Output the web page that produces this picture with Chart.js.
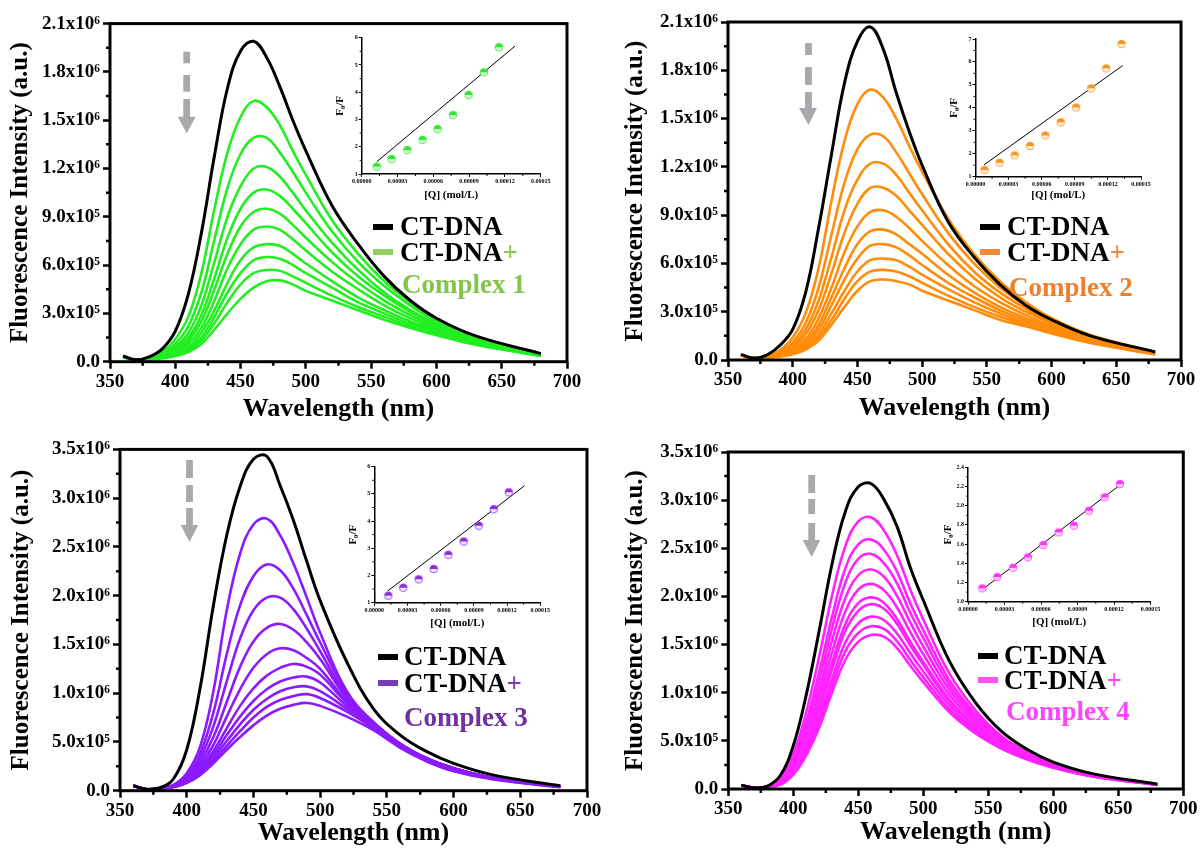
<!DOCTYPE html>
<html>
<head>
<meta charset="utf-8">
<script src="https://cdn.jsdelivr.net/npm/chart.js@4.4.1/dist/chart.umd.min.js"></script>
<style>
  body { margin: 0; background: #fff; }
  #page { position: relative; width: 1200px; height: 854px; overflow: hidden; background: #fff;
          font-family: 'Liberation Serif', 'Times New Roman', serif; font-weight: bold; }
  canvas { position: absolute; }
  .lg { position: absolute; font-size: 27px; line-height: 30px; white-space: nowrap; color: #000; }
  .bar { position: absolute; width: 20px; height: 6px; }
  #arrows { position: absolute; left: 0; top: 0; }
</style>
</head>
<body>
<div id="page">
  <canvas id="m1" width="600" height="427" style="left:0;top:0"></canvas>
  <canvas id="m2" width="600" height="427" style="left:600px;top:0"></canvas>
  <canvas id="m3" width="610" height="427" style="left:0;top:427px"></canvas>
  <canvas id="m4" width="600" height="427" style="left:600px;top:427px"></canvas>
  <canvas id="i1" width="236" height="180" style="left:318px;top:26px"></canvas>
  <canvas id="i2" width="230" height="180" style="left:930px;top:27px"></canvas>
  <canvas id="i3" width="225" height="180" style="left:330px;top:455px"></canvas>
  <canvas id="i4" width="240" height="180" style="left:925px;top:455px"></canvas>

  <!-- legends -->
  <div class="bar" style="left:373px;top:224px;background:#000"></div>
  <div class="lg" style="left:400px;top:211px">CT-DNA</div>
  <div class="bar" style="left:373px;top:249px;background:#8fd060"></div>
  <div class="lg" style="left:400px;top:237px">CT-DNA<span style="color:#8cc850">+</span></div>
  <div class="lg" style="left:402px;top:269px;color:#84c44c">Complex 1</div>

  <div class="bar" style="left:980px;top:224px;background:#000"></div>
  <div class="lg" style="left:1007px;top:211px">CT-DNA</div>
  <div class="bar" style="left:980px;top:249px;background:#f08a3a"></div>
  <div class="lg" style="left:1007px;top:237px">CT-DNA<span style="color:#f08a3a">+</span></div>
  <div class="lg" style="left:1009px;top:272px;color:#ee7f2d">Complex 2</div>

  <div class="bar" style="left:378px;top:654px;background:#000"></div>
  <div class="lg" style="left:404px;top:641px">CT-DNA</div>
  <div class="bar" style="left:378px;top:680px;background:#7a3db8"></div>
  <div class="lg" style="left:404px;top:668px">CT-DNA<span style="color:#7a3db8">+</span></div>
  <div class="lg" style="left:404px;top:702px;color:#7030a0">Complex 3</div>

  <div class="bar" style="left:978px;top:653px;background:#000"></div>
  <div class="lg" style="left:1004px;top:640px">CT-DNA</div>
  <div class="bar" style="left:978px;top:677px;background:#ff55ee"></div>
  <div class="lg" style="left:1004px;top:665px">CT-DNA<span style="color:#ff44ff">+</span></div>
  <div class="lg" style="left:1006px;top:696px;color:#ff44ff">Complex 4</div>

  <!-- quenching arrows -->
  <svg id="arrows" width="1200" height="854">
    <g fill="#a7a9ad">
      <rect x="183.3" y="51.7" width="6.8" height="11.6"/><rect x="183.3" y="75" width="6.8" height="16.7"/>
      <rect x="183.3" y="99" width="6.8" height="18"/><polygon points="177.7,116.7 195.7,116.7 186.7,133.3"/>
      <rect x="805.1" y="43" width="6.8" height="12"/><rect x="805.1" y="67" width="6.8" height="18"/>
      <rect x="805.1" y="92" width="6.8" height="16.5"/><polygon points="799,108 817,108 808.5,125"/>
      <rect x="186.1" y="460" width="6.8" height="18"/><rect x="186.1" y="485" width="6.8" height="17"/>
      <rect x="186.1" y="508" width="6.8" height="17.5"/><polygon points="180.7,525 198.3,525 189.5,542"/>
      <rect x="808.3" y="475" width="6.8" height="18"/><rect x="808.3" y="499" width="6.8" height="15"/>
      <rect x="808.3" y="523" width="6.8" height="17.5"/><polygon points="802.7,540 820.3,540 811.7,557"/>
    </g>
  </svg>
</div>

<script>
// ---- data (intensities in units of 10^6 a.u.) ----
const wavelengths = [360, 370, 380, 390, 400, 410, 420, 430, 440, 450, 460, 470, 480, 490, 500, 520, 540, 560, 580, 600, 630, 680];

const ctDna1 = [0.035, 0.012, 0.03, 0.08, 0.19, 0.42, 0.80, 1.28, 1.70, 1.93, 1.99, 1.89, 1.71, 1.50, 1.31, 0.97, 0.73, 0.53, 0.38, 0.27, 0.16, 0.05];
const complex1 = [
  [0.03, 0.01, 0.02, 0.06, 0.14, 0.28, 0.55, 0.95, 1.30, 1.52, 1.62, 1.58, 1.47, 1.31, 1.16, 0.88, 0.67, 0.50, 0.37, 0.26, 0.155, 0.05],
  [0.03, 0.01, 0.02, 0.05, 0.11, 0.22, 0.43, 0.76, 1.08, 1.29, 1.39, 1.39, 1.30, 1.18, 1.05, 0.81, 0.62, 0.47, 0.35, 0.25, 0.15, 0.05],
  [0.03, 0.01, 0.02, 0.045, 0.09, 0.18, 0.35, 0.62, 0.90, 1.09, 1.20, 1.21, 1.15, 1.05, 0.94, 0.74, 0.57, 0.43, 0.32, 0.235, 0.14, 0.045],
  [0.03, 0.01, 0.02, 0.04, 0.08, 0.15, 0.29, 0.52, 0.77, 0.95, 1.05, 1.07, 1.03, 0.95, 0.86, 0.68, 0.53, 0.41, 0.31, 0.225, 0.135, 0.045],
  [0.03, 0.01, 0.02, 0.035, 0.07, 0.13, 0.25, 0.45, 0.67, 0.84, 0.93, 0.95, 0.92, 0.85, 0.77, 0.62, 0.49, 0.38, 0.29, 0.215, 0.13, 0.042],
  [0.03, 0.01, 0.02, 0.03, 0.06, 0.11, 0.21, 0.38, 0.58, 0.73, 0.82, 0.84, 0.82, 0.76, 0.69, 0.56, 0.45, 0.35, 0.27, 0.205, 0.125, 0.04],
  [0.03, 0.01, 0.015, 0.03, 0.05, 0.09, 0.18, 0.32, 0.49, 0.63, 0.71, 0.73, 0.72, 0.67, 0.61, 0.50, 0.40, 0.32, 0.25, 0.195, 0.12, 0.04],
  [0.03, 0.01, 0.015, 0.025, 0.045, 0.08, 0.15, 0.28, 0.43, 0.55, 0.63, 0.65, 0.64, 0.60, 0.55, 0.46, 0.37, 0.30, 0.235, 0.185, 0.115, 0.038],
  [0.03, 0.01, 0.015, 0.025, 0.04, 0.07, 0.13, 0.24, 0.37, 0.48, 0.55, 0.57, 0.565, 0.53, 0.49, 0.41, 0.34, 0.28, 0.22, 0.175, 0.11, 0.036],
  [0.03, 0.01, 0.015, 0.02, 0.035, 0.06, 0.11, 0.20, 0.30, 0.39, 0.46, 0.50, 0.505, 0.48, 0.44, 0.38, 0.32, 0.26, 0.21, 0.165, 0.105, 0.035]
];

const ctDna2 = [0.035, 0.012, 0.03, 0.09, 0.19, 0.42, 0.82, 1.28, 1.72, 1.98, 2.07, 1.93, 1.66, 1.42, 1.21, 0.86, 0.64, 0.47, 0.34, 0.25, 0.15, 0.05];
const complex2 = [
  [0.03, 0.01, 0.02, 0.06, 0.14, 0.29, 0.57, 0.99, 1.36, 1.59, 1.68, 1.63, 1.50, 1.33, 1.17, 0.88, 0.66, 0.49, 0.36, 0.26, 0.155, 0.05],
  [0.03, 0.01, 0.02, 0.05, 0.11, 0.23, 0.45, 0.78, 1.10, 1.31, 1.40, 1.39, 1.29, 1.16, 1.03, 0.79, 0.60, 0.45, 0.34, 0.245, 0.15, 0.05],
  [0.03, 0.01, 0.02, 0.045, 0.09, 0.19, 0.37, 0.64, 0.93, 1.12, 1.22, 1.22, 1.15, 1.04, 0.93, 0.72, 0.55, 0.42, 0.32, 0.235, 0.14, 0.045],
  [0.03, 0.01, 0.02, 0.04, 0.08, 0.16, 0.31, 0.54, 0.79, 0.97, 1.07, 1.07, 1.02, 0.93, 0.84, 0.66, 0.51, 0.39, 0.30, 0.225, 0.135, 0.045],
  [0.03, 0.01, 0.02, 0.035, 0.07, 0.13, 0.26, 0.45, 0.67, 0.83, 0.92, 0.93, 0.89, 0.82, 0.74, 0.59, 0.46, 0.36, 0.28, 0.21, 0.13, 0.042],
  [0.03, 0.01, 0.02, 0.03, 0.06, 0.11, 0.22, 0.39, 0.57, 0.72, 0.80, 0.81, 0.78, 0.72, 0.66, 0.53, 0.42, 0.33, 0.26, 0.20, 0.125, 0.04],
  [0.03, 0.01, 0.015, 0.03, 0.05, 0.10, 0.19, 0.34, 0.50, 0.63, 0.71, 0.72, 0.70, 0.65, 0.59, 0.48, 0.39, 0.31, 0.245, 0.19, 0.12, 0.04],
  [0.03, 0.01, 0.015, 0.025, 0.045, 0.085, 0.16, 0.29, 0.43, 0.55, 0.62, 0.63, 0.62, 0.58, 0.53, 0.44, 0.36, 0.29, 0.23, 0.18, 0.115, 0.038],
  [0.03, 0.01, 0.015, 0.025, 0.04, 0.075, 0.14, 0.25, 0.38, 0.49, 0.55, 0.56, 0.55, 0.52, 0.48, 0.40, 0.33, 0.27, 0.22, 0.17, 0.11, 0.036],
  [0.03, 0.01, 0.015, 0.02, 0.035, 0.065, 0.12, 0.22, 0.33, 0.43, 0.49, 0.50, 0.49, 0.47, 0.43, 0.37, 0.31, 0.25, 0.21, 0.165, 0.105, 0.035]
];

const ctDna3 = [0.05, 0.015, 0.03, 0.12, 0.42, 1.05, 1.90, 2.62, 3.12, 3.40, 3.43, 3.13, 2.77, 2.35, 1.95, 1.32, 0.84, 0.57, 0.40, 0.28, 0.16, 0.05];
const complex3 = [
  [0.05, 0.015, 0.025, 0.06, 0.18, 0.45, 1.02, 1.85, 2.43, 2.73, 2.79, 2.62, 2.33, 1.98, 1.62, 1.02, 0.70, 0.47, 0.32, 0.22, 0.125, 0.04],
  [0.05, 0.015, 0.025, 0.055, 0.15, 0.38, 0.80, 1.40, 1.90, 2.20, 2.32, 2.26, 2.07, 1.80, 1.52, 1.00, 0.70, 0.48, 0.33, 0.23, 0.13, 0.04],
  [0.05, 0.015, 0.025, 0.05, 0.13, 0.33, 0.66, 1.12, 1.56, 1.85, 1.98, 1.98, 1.86, 1.66, 1.43, 0.97, 0.70, 0.48, 0.33, 0.23, 0.13, 0.04],
  [0.05, 0.015, 0.025, 0.05, 0.12, 0.29, 0.55, 0.91, 1.27, 1.53, 1.67, 1.71, 1.65, 1.52, 1.35, 0.95, 0.70, 0.48, 0.33, 0.23, 0.13, 0.04],
  [0.05, 0.015, 0.025, 0.045, 0.11, 0.26, 0.47, 0.76, 1.04, 1.26, 1.40, 1.46, 1.44, 1.36, 1.25, 0.92, 0.69, 0.48, 0.33, 0.23, 0.13, 0.04],
  [0.05, 0.015, 0.025, 0.045, 0.10, 0.23, 0.41, 0.64, 0.87, 1.05, 1.18, 1.26, 1.30, 1.27, 1.19, 0.90, 0.68, 0.47, 0.33, 0.23, 0.13, 0.04],
  [0.05, 0.015, 0.025, 0.04, 0.09, 0.21, 0.37, 0.57, 0.76, 0.92, 1.04, 1.12, 1.16, 1.17, 1.11, 0.87, 0.67, 0.47, 0.33, 0.23, 0.13, 0.04],
  [0.05, 0.015, 0.025, 0.04, 0.09, 0.19, 0.34, 0.51, 0.68, 0.83, 0.94, 1.02, 1.06, 1.07, 1.02, 0.84, 0.65, 0.46, 0.32, 0.22, 0.125, 0.04],
  [0.05, 0.015, 0.025, 0.04, 0.08, 0.18, 0.31, 0.46, 0.61, 0.75, 0.86, 0.93, 0.97, 0.99, 0.95, 0.81, 0.64, 0.45, 0.31, 0.21, 0.12, 0.04],
  [0.05, 0.015, 0.025, 0.035, 0.08, 0.16, 0.28, 0.42, 0.55, 0.67, 0.77, 0.84, 0.88, 0.90, 0.87, 0.76, 0.62, 0.44, 0.30, 0.20, 0.115, 0.035]
];

const ctDna4 = [0.04, 0.012, 0.03, 0.14, 0.45, 0.98, 1.65, 2.35, 2.88, 3.14, 3.17, 3.00, 2.72, 2.30, 1.96, 1.33, 0.90, 0.60, 0.41, 0.28, 0.16, 0.05];
const complex4 = [
  [0.04, 0.012, 0.025, 0.11, 0.36, 0.80, 1.38, 2.02, 2.52, 2.78, 2.82, 2.68, 2.42, 2.07, 1.76, 1.20, 0.82, 0.55, 0.38, 0.26, 0.15, 0.05],
  [0.04, 0.012, 0.025, 0.09, 0.31, 0.70, 1.22, 1.80, 2.29, 2.54, 2.59, 2.48, 2.25, 1.93, 1.65, 1.13, 0.78, 0.53, 0.37, 0.255, 0.148, 0.048],
  [0.04, 0.012, 0.025, 0.085, 0.28, 0.64, 1.12, 1.68, 2.14, 2.39, 2.44, 2.34, 2.13, 1.83, 1.57, 1.08, 0.75, 0.51, 0.36, 0.25, 0.145, 0.047],
  [0.04, 0.012, 0.022, 0.08, 0.25, 0.58, 1.02, 1.55, 1.98, 2.22, 2.28, 2.20, 2.00, 1.73, 1.48, 1.03, 0.72, 0.49, 0.35, 0.245, 0.142, 0.046],
  [0.04, 0.012, 0.022, 0.07, 0.23, 0.53, 0.94, 1.43, 1.84, 2.07, 2.13, 2.06, 1.88, 1.63, 1.40, 0.98, 0.69, 0.47, 0.34, 0.24, 0.14, 0.045],
  [0.04, 0.012, 0.02, 0.065, 0.21, 0.48, 0.86, 1.32, 1.71, 1.93, 1.99, 1.93, 1.76, 1.53, 1.32, 0.93, 0.66, 0.46, 0.33, 0.235, 0.138, 0.045],
  [0.04, 0.012, 0.02, 0.06, 0.19, 0.45, 0.81, 1.25, 1.64, 1.85, 1.92, 1.87, 1.71, 1.49, 1.29, 0.91, 0.65, 0.45, 0.325, 0.232, 0.136, 0.044],
  [0.04, 0.012, 0.02, 0.055, 0.17, 0.41, 0.74, 1.15, 1.52, 1.72, 1.79, 1.75, 1.61, 1.41, 1.22, 0.87, 0.62, 0.44, 0.32, 0.228, 0.134, 0.044],
  [0.04, 0.012, 0.02, 0.05, 0.16, 0.38, 0.69, 1.08, 1.43, 1.62, 1.69, 1.66, 1.53, 1.34, 1.16, 0.83, 0.60, 0.43, 0.31, 0.224, 0.132, 0.043],
  [0.04, 0.012, 0.02, 0.045, 0.15, 0.35, 0.64, 1.01, 1.34, 1.53, 1.60, 1.58, 1.46, 1.28, 1.11, 0.80, 0.58, 0.42, 0.305, 0.22, 0.13, 0.043]
];

// tick values / labels
const xTicks = [350, 400, 450, 500, 550, 600, 650, 700];
const xMinor = [375, 425, 475, 525, 575, 625, 675];
const yTicksA = [0, 0.3, 0.6, 0.9, 1.2, 1.5, 1.8, 2.1];
const yLabelsA = ['0.0', '3.0x10\u2075', '6.0x10\u2075', '9.0x10\u2075', '1.2x10\u2076', '1.5x10\u2076', '1.8x10\u2076', '2.1x10\u2076'];
const yMinorA = [0.15, 0.45, 0.75, 1.05, 1.35, 1.65, 1.95];
const yTicksB = [0, 0.5, 1.0, 1.5, 2.0, 2.5, 3.0, 3.5];
const yLabelsB = ['0.0', '5.0x10\u2075', '1.0x10\u2076', '1.5x10\u2076', '2.0x10\u2076', '2.5x10\u2076', '3.0x10\u2076', '3.5x10\u2076'];
const yMinorB = [0.25, 0.75, 1.25, 1.75, 2.25, 2.75, 3.25];

// Stern-Volmer insets: [Q] (mol/L) vs F0/F
const conc1 = [1.26e-5, 2.51e-5, 3.82e-5, 5.10e-5, 6.36e-5, 7.65e-5, 8.96e-5, 1.024e-4, 1.15e-4];
const ratio1 = [1.27, 1.55, 1.88, 2.25, 2.65, 3.16, 3.90, 4.73, 5.65];
const fitX1 = [1.26e-5, 1.284e-4], fitY1 = [1.45, 5.69];
const conc2 = [0.82e-5, 2.18e-5, 3.55e-5, 4.94e-5, 6.33e-5, 7.73e-5, 9.12e-5, 1.048e-4, 1.185e-4, 1.324e-4];
const ratio2 = [1.29, 1.61, 1.93, 2.34, 2.80, 3.37, 4.02, 4.85, 5.72, 6.78];
const fitX2 = [0.76e-5, 1.333e-4], fitY2 = [1.51, 5.84];
const conc3 = [1.27e-5, 2.62e-5, 4.01e-5, 5.37e-5, 6.69e-5, 8.08e-5, 9.44e-5, 1.079e-4, 1.215e-4];
const ratio3 = [1.26, 1.55, 1.86, 2.24, 2.76, 3.25, 3.83, 4.44, 5.06];
const fitX3 = [1.21e-5, 1.357e-4], fitY3 = [1.43, 5.30];
const conc4 = [1.18e-5, 2.41e-5, 3.70e-5, 4.93e-5, 6.19e-5, 7.45e-5, 8.71e-5, 9.95e-5, 1.123e-4, 1.249e-4];
const ratio4 = [1.139, 1.257, 1.354, 1.462, 1.590, 1.722, 1.792, 1.948, 2.087, 2.226];
const fitX4 = [1.10e-5, 1.233e-4], fitY4 = [1.12, 2.20];

const qTicks = [0, 0.00003, 0.00006, 0.00009, 0.00012, 0.00015];
const qLabels = ['0.00000', '0.00003', '0.00006', '0.00009', '0.00012', '0.00015'];
const qMinor = [0.000015, 0.000045, 0.000075, 0.000105, 0.000135];

const FONT = "'Liberation Serif', 'Times New Roman', serif";

// minor ticks + frame, drawn after the datasets
const minorTicks = {
  id: 'minor',
  afterDraw(chart, args, o) {
    const {ctx, chartArea: a, scales: {x, y}} = chart;
    ctx.save();
    ctx.strokeStyle = '#000';
    if (o.box) {
      ctx.lineWidth = o.box;
      ctx.strokeRect(a.left, a.top, a.right - a.left, a.bottom - a.top);
    }
    ctx.lineWidth = o.width;
    ctx.beginPath();
    o.x.forEach(v => { const p = x.getPixelForValue(v); ctx.moveTo(p, a.bottom); ctx.lineTo(p, a.bottom + o.len); });
    o.y.forEach(v => { const p = y.getPixelForValue(v); ctx.moveTo(a.left, p); ctx.lineTo(a.left - o.len, p); });
    ctx.stroke();
    ctx.restore();
  }
};

function mainChart(id, p) {
  const sets = [{ data: p.black.map((v, i) => ({x: wavelengths[i], y: v})), borderColor: '#000', borderWidth: 3 }];
  p.curves.forEach(c => sets.push({ data: c.map((v, i) => ({x: wavelengths[i], y: v})), borderColor: p.color, borderWidth: 2.6 }));
  return new Chart(document.getElementById(id), {
    type: 'line',
    data: { datasets: sets },
    options: {
      responsive: false, animation: false, devicePixelRatio: 1,
      layout: { padding: { top: p.padTop, right: p.padRight, left: 0, bottom: 0 } },
      elements: { point: { radius: 0 }, line: { tension: 0.4 } },
      plugins: { legend: { display: false }, tooltip: { enabled: false },
        minor: { x: xMinor, y: p.yMinor, len: 4, width: 2.5, box: 3 } },
      scales: {
        x: {
          type: 'linear', min: 350, max: 700,
          afterBuildTicks: s => { s.ticks = xTicks.map(v => ({value: v})); },
          afterFit: s => { s.height = p.xH; },
          border: { display: false },
          grid: { drawOnChartArea: false, tickLength: 7, tickWidth: 2.5, color: '#000' },
          ticks: { autoSkip: false, maxRotation: 0, color: '#000', padding: 2,
                   font: { family: FONT, size: 19, weight: 'bold' }, callback: v => String(v) },
          title: { display: true, text: 'Wavelength (nm)', color: '#000',
                   font: { family: FONT, size: 26, weight: 'bold' }, padding: { top: 0, bottom: p.xTitlePad } }
        },
        y: {
          type: 'linear', min: 0, max: p.yTicks[p.yTicks.length - 1],
          afterBuildTicks: s => { s.ticks = p.yTicks.map(v => ({value: v})); },
          afterFit: s => { s.width = p.yW; },
          border: { display: false },
          grid: { drawOnChartArea: false, tickLength: 7, tickWidth: 2.5, color: '#000' },
          ticks: { color: '#000', padding: 3, font: { family: FONT, size: 19, weight: 'bold' },
                   callback: (v, i) => p.yLabels[i] },
          title: { display: true, text: 'Fluorescence Intensity (a.u.)', color: '#000',
                   font: { family: FONT, size: 25, weight: 'bold' }, padding: { top: p.yTitlePad, bottom: 0 } }
        }
      }
    },
    plugins: [minorTicks]
  });
}

function halfDot(color, light) {
  const c = document.createElement('canvas');
  c.width = 10; c.height = 10;
  const g = c.getContext('2d');
  g.beginPath(); g.arc(5, 5, 3.8, 0, 2 * Math.PI); g.fillStyle = light; g.fill();
  g.beginPath(); g.arc(5, 5, 3.8, Math.PI, 2 * Math.PI); g.closePath(); g.fillStyle = color; g.fill();
  g.beginPath(); g.arc(5, 5, 3.8, 0, 2 * Math.PI); g.strokeStyle = color; g.lineWidth = 0.8; g.stroke();
  return c;
}

function insetChart(id, p) {
  return new Chart(document.getElementById(id), {
    type: 'scatter',
    data: { datasets: [
      { data: p.conc.map((v, i) => ({x: v, y: p.ratio[i]})), pointStyle: halfDot(p.color, p.light) },
      { type: 'line', data: p.fitX.map((v, i) => ({x: v, y: p.fitY[i]})), borderColor: '#000', borderWidth: 1,
        pointRadius: 0, showLine: true }
    ] },
    options: {
      responsive: false, animation: false, devicePixelRatio: 1,
      layout: { padding: { top: p.padTop, right: p.padRight, left: 0, bottom: 0 } },
      plugins: { legend: { display: false }, tooltip: { enabled: false },
        minor: { x: qMinor, y: p.yMinor, len: 2, width: 1, box: 0 } },
      scales: {
        x: {
          type: 'linear', min: 0, max: 0.00015,
          afterBuildTicks: s => { s.ticks = qTicks.map(v => ({value: v})); },
          afterFit: s => { s.height = p.xH; },
          border: { display: true, width: 1.5, color: '#000' },
          grid: { drawOnChartArea: false, tickLength: 3, tickWidth: 1, color: '#000' },
          ticks: { autoSkip: false, maxRotation: 0, color: '#000', padding: 1,
                   font: { family: FONT, size: 6, weight: 'bold' }, callback: (v, i) => qLabels[i] },
          title: { display: true, text: '[Q] (mol/L)', color: '#000',
                   font: { family: FONT, size: 11, weight: 'bold' }, padding: { top: 0, bottom: p.xTitlePad } }
        },
        y: {
          type: 'linear', min: p.yTicks[0], max: p.yTicks[p.yTicks.length - 1],
          afterBuildTicks: s => { s.ticks = p.yTicks.map(v => ({value: v})); },
          afterFit: s => { s.width = p.yW; },
          border: { display: true, width: 1.5, color: '#000' },
          grid: { drawOnChartArea: false, tickLength: 3, tickWidth: 1, color: '#000' },
          ticks: { color: '#000', padding: 1, font: { family: FONT, size: 6, weight: 'bold' },
                   callback: (v, i) => p.yLabels[i] },
          title: { display: true, text: 'F\u2080/F', color: '#000',
                   font: { family: FONT, size: 11, weight: 'bold' }, padding: { top: p.yTitlePad, bottom: 0 } }
        }
      }
    },
    plugins: [minorTicks]
  });
}

mainChart('m1', { black: ctDna1, curves: complex1, color: '#22ee22', yTicks: yTicksA, yLabels: yLabelsA, yMinor: yMinorA,
  yW: 110, xH: 65.3, padTop: 23.6, padRight: 33, yTitlePad: 6, xTitlePad: 2 });
mainChart('m2', { black: ctDna2, curves: complex2, color: '#ff8c0a', yTicks: yTicksA, yLabels: yLabelsA, yMinor: yMinorA,
  yW: 128, xH: 67, padTop: 22, padRight: 19, yTitlePad: 21, xTitlePad: 3.4 });
mainChart('m3', { black: ctDna3, curves: complex3, color: '#8c1aff', yTicks: yTicksB, yLabels: yLabelsB, yMinor: yMinorB,
  yW: 120, xH: 63.3, padTop: 22.4, padRight: 23, yTitlePad: 7, xTitlePad: 5.4 });
mainChart('m4', { black: ctDna4, curves: complex4, color: '#ff22ff', yTicks: yTicksB, yLabels: yLabelsB, yMinor: yMinorB,
  yW: 128.3, xH: 65, padTop: 25, padRight: 16.7, yTitlePad: 21, xTitlePad: 6.4 });

const ySV6 = [1, 2, 3, 4, 5, 6], ySV6Labels = ['1', '2', '3', '4', '5', '6'];
const ySV7 = [1, 2, 3, 4, 5, 6, 7], ySV7Labels = ['1', '2', '3', '4', '5', '6', '7'];
const ySVc = [1.0, 1.2, 1.4, 1.6, 1.8, 2.0, 2.2, 2.4], ySVcLabels = ['1.0', '1.2', '1.4', '1.6', '1.8', '2.0', '2.2', '2.4'];

insetChart('i1', { conc: conc1, ratio: ratio1, fitX: fitX1, fitY: fitY1, color: '#2ee82e', light: '#e6ffe6',
  yTicks: ySV6, yLabels: ySV6Labels, yMinor: [1.5, 2.5, 3.5, 4.5, 5.5],
  yW: 43.7, xH: 32, padTop: 11.7, padRight: 13.3, yTitlePad: 15.4, xTitlePad: 4.4 });
insetChart('i2', { conc: conc2, ratio: ratio2, fitX: fitX2, fitY: fitY2, color: '#f7941d', light: '#fff2e0',
  yTicks: ySV7, yLabels: ySV7Labels, yMinor: [1.5, 2.5, 3.5, 4.5, 5.5, 6.5],
  yW: 45.5, xH: 30.3, padTop: 12, padRight: 19, yTitlePad: 17.4, xTitlePad: 5.4 });
insetChart('i3', { conc: conc3, ratio: ratio3, fitX: fitX3, fitY: fitY3, color: '#8a2be2', light: '#f3ebff',
  yTicks: ySV6, yLabels: ySV6Labels, yMinor: [1.5, 2.5, 3.5, 4.5, 5.5],
  yW: 44.3, xH: 32.3, padTop: 11.7, padRight: 14.7, yTitlePad: 16.4, xTitlePad: 5.4 });
insetChart('i4', { conc: conc4, ratio: ratio4, fitX: fitX4, fitY: fitY4, color: '#ff33ff', light: '#ffd6ff',
  yTicks: ySVc, yLabels: ySVcLabels, yMinor: [1.1, 1.3, 1.5, 1.7, 1.9, 2.1, 2.3],
  yW: 43, xH: 33.3, padTop: 12.3, padRight: 14.5, yTitlePad: 16.7, xTitlePad: 6.7 });
</script>
</body>
</html>
